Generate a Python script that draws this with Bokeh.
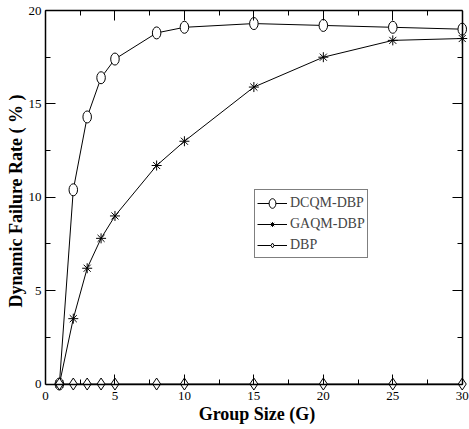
from bokeh.plotting import figure
from bokeh.models import LinearAxis, Legend, LegendItem, Range1d, FixedTicker
from bokeh.embed import file_html
from bokeh.resources import INLINE

group_size = [1, 2, 3, 4, 5, 8, 10, 15, 20, 25, 30]
dcqm_dbp = [0, 10.4, 14.3, 16.4, 17.4, 18.8, 19.1, 19.3, 19.2, 19.1, 19.0]
gaqm_dbp = [0, 3.5, 6.2, 7.8, 9.0, 11.7, 13.0, 15.9, 17.5, 18.4, 18.5]
dbp = [0, 0, 0, 0, 0, 0, 0, 0, 0, 0, 0]
x_ticks = [0, 5, 10, 15, 20, 25, 30]
y_ticks = [0, 5, 10, 15, 20]

FONT = "Liberation Serif"

p = figure(width=469, height=429, output_backend="svg", toolbar_location=None,
           x_range=Range1d(0, 30.45), y_range=Range1d(-0.4, 20),
           min_border_left=45, min_border_right=1, min_border_top=10, min_border_bottom=38,
           x_axis_label="Group Size (G)", y_axis_label="Dynamic Failure Rate ( % )")
p.background_fill_color = "white"
p.border_fill_color = "white"
p.grid.visible = False
p.outline_line_color = None

def style(ax, ticks, show_labels=True):
    ax.ticker = FixedTicker(ticks=ticks, minor_ticks=[t + 2.5 for t in ticks[:-1]])
    ax.bounds = (ticks[0], ticks[-1])
    ax.major_tick_in = 10
    ax.major_tick_out = 0
    ax.minor_tick_in = 5
    ax.minor_tick_out = 0
    ax.axis_line_color = "black"
    ax.axis_line_width = 1.5
    ax.major_tick_line_color = "black"
    ax.minor_tick_line_color = "black"
    ax.major_label_text_font = FONT
    ax.major_label_text_font_size = "13px"
    ax.major_label_text_color = "black"
    ax.axis_label_text_font = FONT
    ax.axis_label_text_font_style = "bold"
    ax.axis_label_text_font_size = "18px"
    ax.axis_label_text_color = "black"
    if not show_labels:
        ax.major_label_text_font_size = "0px"
        ax.major_label_standoff = 0

# bottom axis: labels only (at frame bottom, just below the zero line)
xlab = p.xaxis[0]
style(xlab, x_ticks)
xlab.axis_line_color = None
xlab.major_tick_line_color = None
xlab.minor_tick_line_color = None
xlab.major_label_standoff = 0
xlab.axis_label_standoff = 1

# bottom axis line + ticks at y = 0
xline = LinearAxis()
style(xline, x_ticks, False)
xline.fixed_location = 0
p.add_layout(xline, "below")

style(p.yaxis[0], y_ticks)
p.yaxis[0].major_label_standoff = 4
p.yaxis[0].axis_label_standoff = 0

top = LinearAxis()
style(top, x_ticks, False)
p.add_layout(top, "above")
right = LinearAxis()
style(right, y_ticks, False)
right.fixed_location = 30
p.add_layout(right, "right")

l1 = p.line(group_size, dcqm_dbp, line_color="black", line_width=1)
m1 = p.ellipse(group_size, dcqm_dbp, width=8.5, height=12, width_units="screen", height_units="screen",
               fill_color="white", line_color="black", line_width=1)
l2 = p.line(group_size, gaqm_dbp, line_color="black", line_width=1)
m2 = p.scatter(group_size, gaqm_dbp, marker="asterisk", size=10, line_color="black", line_width=1)
l3 = p.line(group_size, dbp, line_color="black", line_width=1)
m3 = p.scatter(group_size, dbp, marker="diamond", size=12, fill_color="white", line_color="black",
               line_width=1)

legend = Legend(items=[LegendItem(label="DCQM-DBP", renderers=[l1, m1]),
                       LegendItem(label="GAQM-DBP", renderers=[l2, m2]),
                       LegendItem(label="DBP", renderers=[l3, m3])],
                location=(209, 133), label_text_font=FONT, label_text_font_size="14px",
                border_line_color="black", border_line_width=1,
                padding=2, spacing=0, margin=0, glyph_width=30, glyph_height=12,
                label_standoff=3, label_height=21)
p.add_layout(legend, "center")

open("out.html", "w").write(file_html(p, INLINE))
